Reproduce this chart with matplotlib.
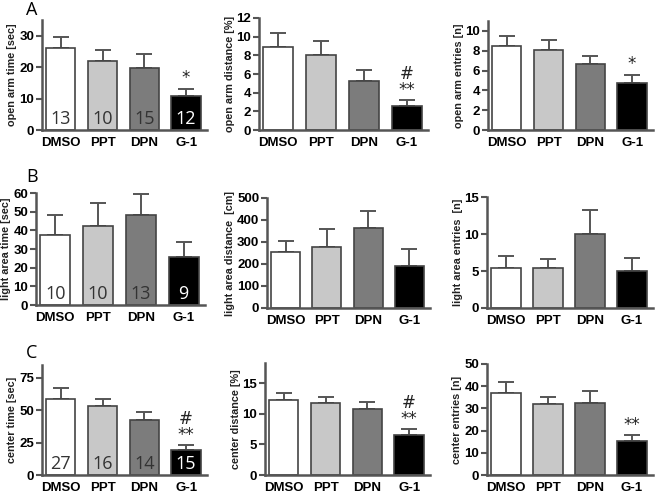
import matplotlib

matplotlib.use("Agg")
import matplotlib.pyplot as plt

groups = ["DMSO", "PPT", "DPN", "G-1"]
bar_colors = ["#ffffff", "#c8c8c8", "#7c7c7c", "#000000"]
count_colors = ["#333333", "#333333", "#333333", "#ffffff"]

# row A: elevated plus maze
open_arm_time = [26.0, 22.0, 19.8, 10.8]
open_arm_time_sem = [3.5, 3.5, 4.4, 2.4]
open_arm_dist = [8.9, 8.0, 5.3, 2.6]
open_arm_dist_sem = [1.5, 1.5, 1.1, 0.6]
open_arm_entries = [8.5, 8.1, 6.7, 4.7]
open_arm_entries_sem = [1.0, 1.0, 0.8, 0.9]
n_a = [13, 10, 15, 12]

# row B: light/dark box
light_time = [37.5, 42.5, 48.0, 25.5]
light_time_sem = [10.5, 12.0, 11.5, 8.5]
light_dist = [255, 278, 362, 193]
light_dist_sem = [50, 80, 81, 74]
light_entries = [5.4, 5.4, 10.0, 5.0]
light_entries_sem = [1.6, 1.2, 3.3, 1.7]
n_b = [10, 10, 13, 9]

# row C: open field
center_time = [59.0, 53.0, 42.5, 19.5]
center_time_sem = [8.0, 6.0, 6.5, 3.5]
center_dist = [12.2, 11.7, 10.8, 6.5]
center_dist_sem = [1.2, 1.1, 1.1, 1.0]
center_entries = [37.0, 32.0, 32.5, 15.2]
center_entries_sem = [4.8, 3.2, 5.5, 2.8]
n_c = [27, 16, 14, 15]

W, H = 658, 494
EDGE = "#444444"

# (pixel box l, r, top, bottom), values, sem, ylabel, ylim, yticks, counts, marks on G-1
panels = [
    ((42, 207, 20, 130), open_arm_time, open_arm_time_sem, "open arm time [sec]",
     35, [0, 10, 20, 30], n_a, "*"),
    ((259, 428, 18, 130), open_arm_dist, open_arm_dist_sem, "open arm distance [%]",
     12, [0, 2, 4, 6, 8, 10, 12], None, "#\n**"),
    ((488, 653, 21, 130), open_arm_entries, open_arm_entries_sem, "open arm entries [n]",
     11, [0, 2, 4, 6, 8, 10], None, "*"),
    ((36, 205, 193, 305), light_time, light_time_sem, "light area time [sec]",
     60, [0, 10, 20, 30, 40, 50, 60], n_b, None),
    ((267, 430, 198, 308), light_dist, light_dist_sem, "light area distance  [cm]",
     500, [0, 100, 200, 300, 400, 500], None, None),
    ((487, 653, 197, 308), light_entries, light_entries_sem, "light area entries  [n]",
     15, [0, 5, 10, 15], None, None),
    ((42, 207, 365, 475), center_time, center_time_sem, "center time [sec]",
     85, [0, 25, 50, 75], n_c, "#\n**"),
    ((265, 430, 363, 475), center_dist, center_dist_sem, "center distance [%]",
     18.3, [0, 5, 10, 15], None, "#\n**"),
    ((487, 653, 364, 475), center_entries, center_entries_sem, "center entries [n]",
     50, [0, 10, 20, 30, 40, 50], None, "**"),
]

fig = plt.figure(figsize=(W / 100, H / 100), dpi=100)
x = list(range(len(groups)))

for (l, r, t, b), vals, sem, ylabel, ymax, yticks, counts, mark in panels:
    ax = fig.add_axes([l / W, (H - b) / H, (r - l) / W, (b - t) / H])
    ax.bar(x, vals, width=0.7, color=bar_colors, edgecolor=EDGE, linewidth=1.2, zorder=2)
    ax.errorbar(x, vals, yerr=[[0] * 4, sem], fmt="none", ecolor="#555555",
                elinewidth=1.4, capsize=5.5, capthick=1.4, zorder=1)
    ax.set_xlim(-0.45, 3.5)
    ax.set_ylim(0, ymax)
    ax.set_yticks(yticks)
    ax.set_xticks(x)
    ax.set_xticklabels(groups)
    for sp in ("top", "right"):
        ax.spines[sp].set_visible(False)
    for sp in ("left", "bottom"):
        ax.spines[sp].set_color("#555555")
        ax.spines[sp].set_linewidth(1.8)
    ax.tick_params(axis="y", length=4, width=1.5, color="#555555", pad=1.5)
    ax.tick_params(axis="x", length=0, pad=5)
    for lab in ax.get_xticklabels() + ax.get_yticklabels():
        lab.set_fontfamily("Liberation Sans")
        lab.set_fontweight("bold")
        lab.set_fontsize(9.5)
    ax.set_ylabel(ylabel, fontfamily="Liberation Sans", fontweight="bold",
                  fontsize=7.8, color="#222222", labelpad=1.5)
    if counts:
        for i, n in enumerate(counts):
            ax.text(i, ymax * 0.02, str(n), ha="center", va="bottom",
                    fontsize=13, fontfamily="Open Sans", color=count_colors[i])
    if mark:
        ax.text(3, vals[3] + sem[3] + ymax * 0.01, mark, ha="center", va="bottom",
                fontsize=12, fontfamily="DejaVu Sans", color="#222222",
                linespacing=0.85)

for letter, px, py in [("A", 26, 10), ("B", 26, 177), ("C", 26, 353)]:
    fig.text(px / W, 1 - py / H, letter, fontsize=13, fontfamily="Open Sans",
             va="center", ha="left")

fig.savefig("out.png", dpi=100)
